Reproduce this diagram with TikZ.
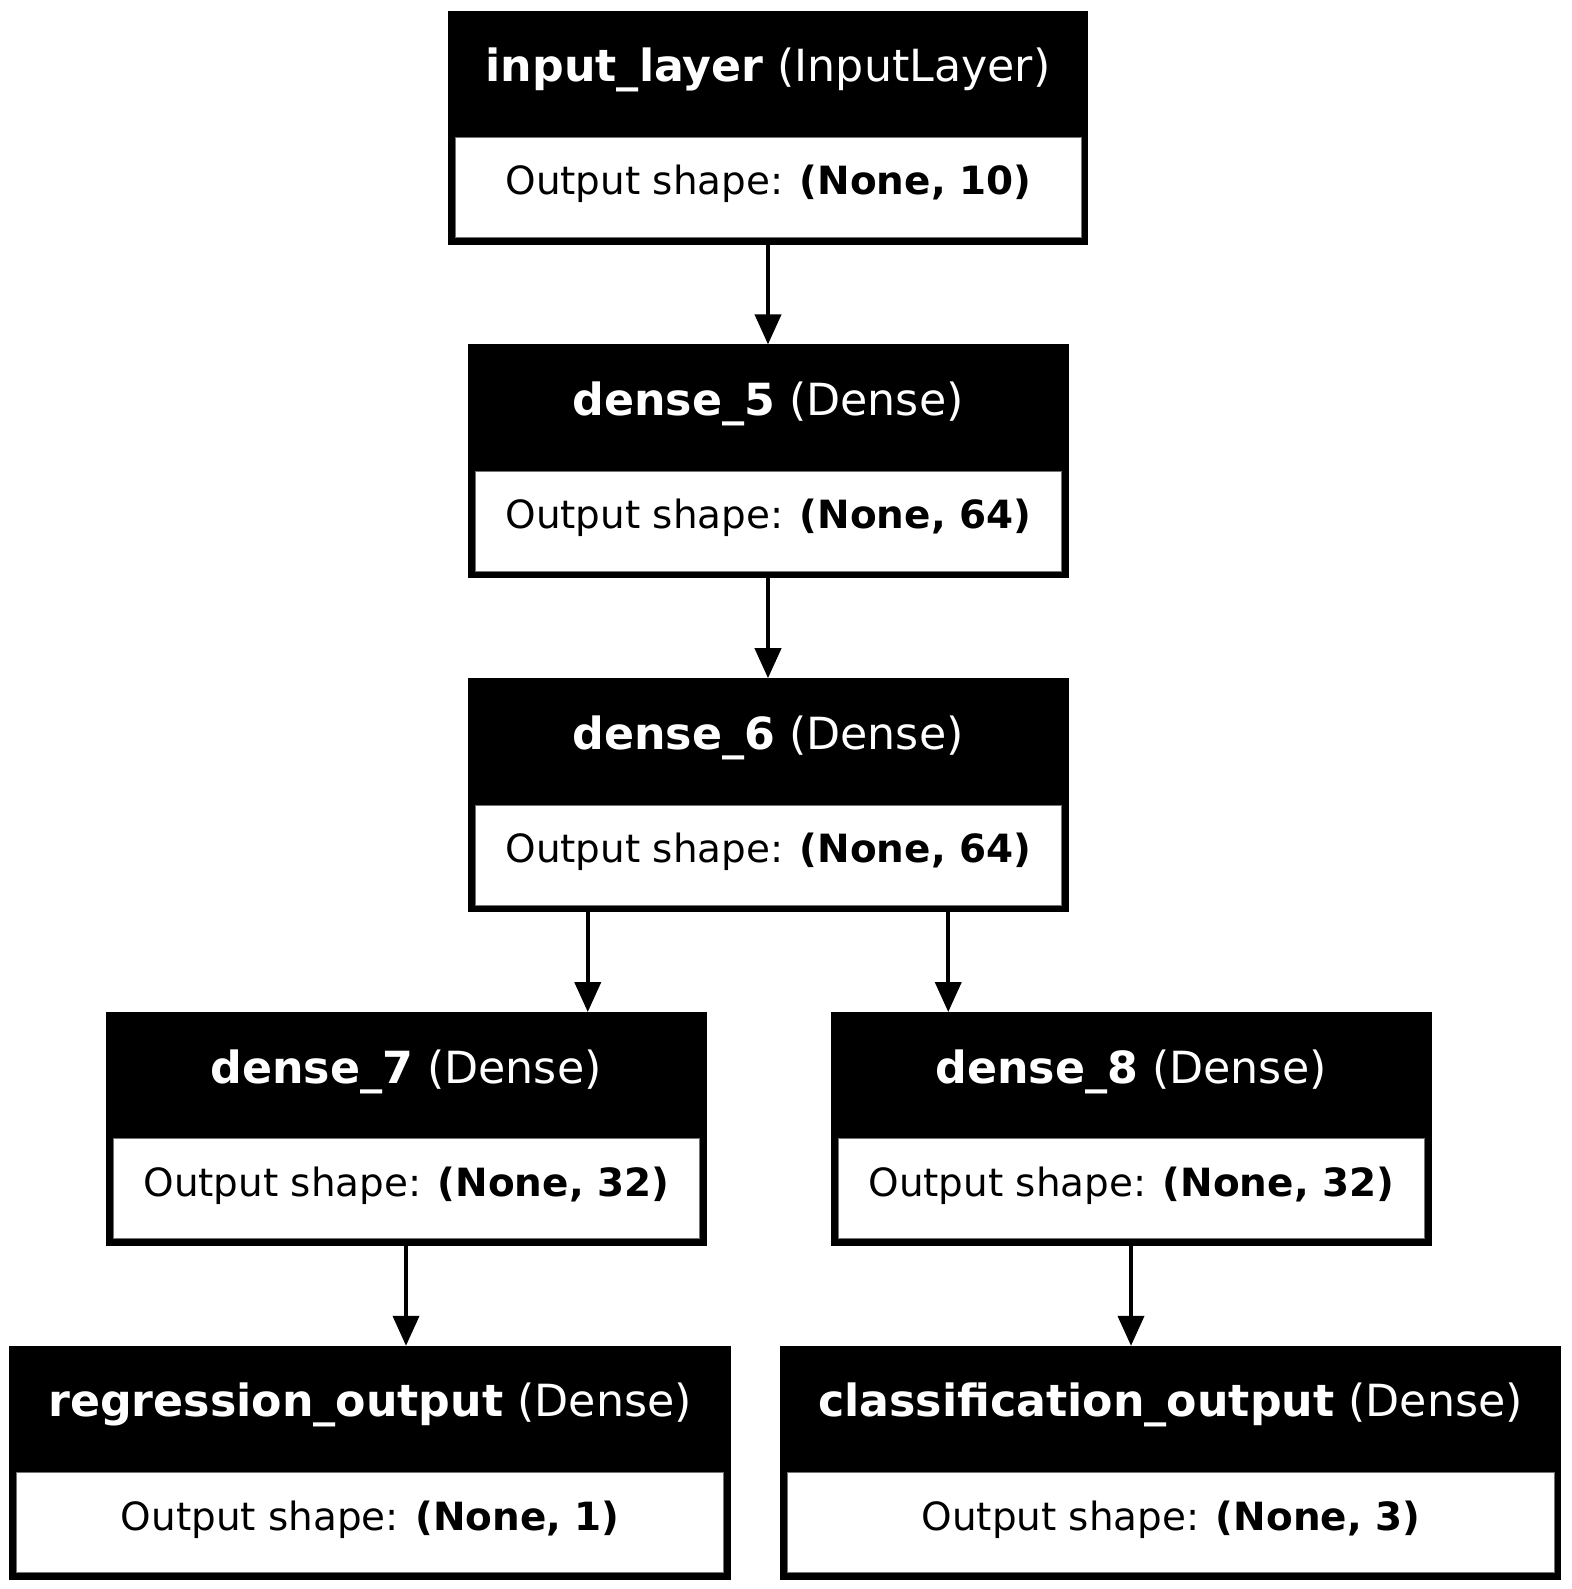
\documentclass[tikz,border=0pt]{standalone}
\usepackage{fontspec}
\setmainfont{DejaVu Sans}
\usepackage{tikz}
\usetikzlibrary{arrows.meta,positioning,calc}

\begin{document}
\begin{tikzpicture}
%defines
  [x=0.5pt,y=-0.5pt,
layerbox/.style={rectangle,fill=black,draw=black,line width=0.4pt,
inner sep=0pt,minimum height=116.5pt},
headbox/.style={rectangle,inner sep=0pt,anchor=north,text=white,
font=\fontsize{22.15pt}{26pt}\selectfont,
minimum height=63.25pt,text height=16pt,text depth=8.6pt},
shapebox/.style={rectangle,fill=white,draw=black!55,line width=0.5pt,
inner sep=0pt,minimum height=50pt,font=\fontsize{19.45pt}{23pt}\selectfont,
text height=16pt,text depth=8.6pt},
post/.style={-{Triangle[length=15pt,width=13pt]},line width=2pt}]
\useasboundingbox (0,0) rectangle (1572,1589);
% layers
\node[layerbox,minimum width=319.8pt] (input layer) at (768,127.5) {};
\node[layerbox,minimum width=300pt] (dense 5) [below=50pt of input layer] {};
\node[layerbox,minimum width=300pt] (dense 6) [below=50pt of dense 5] {};
\node[layerbox,minimum width=300pt] (dense 7) [below=50pt of dense 6,xshift=-181pt] {};
\node[layerbox,minimum width=300pt] (dense 8) [below=50pt of dense 6,xshift=181.5pt] {};
\node[layerbox,minimum width=360.25pt] (regression output) [below=50pt of dense 7,xshift=-18pt] {};
\node[layerbox,minimum width=390.25pt] (classification output) [below=50pt of dense 8,xshift=19.75pt] {};
% titles
\node[headbox] (input layer title) at (input layer.north) {\textbf{input\_layer} (InputLayer)};
\node[headbox] (dense 5 title) at (dense 5.north) {\textbf{dense\_5} (Dense)};
\node[headbox] (dense 6 title) at (dense 6.north) {\textbf{dense\_6} (Dense)};
\node[headbox] (dense 7 title) at (dense 7.north) {\textbf{dense\_7} (Dense)};
\node[headbox] (dense 8 title) at (dense 8.north) {\textbf{dense\_8} (Dense)};
\node[headbox] (regression output title) at (regression output.north) {\textbf{regression\_output} (Dense)};
\node[headbox] (classification output title) at (classification output.north) {\textbf{classification\_output} (Dense)};
% output shapes
\node[shapebox,minimum width=313.05pt] (input layer shape) [above right=3.25pt and 3.5pt of input layer.south west] {Output shape: \textbf{(None, 10)}};
\node[shapebox,minimum width=293.25pt] (dense 5 shape) [above right=3.25pt and 3.5pt of dense 5.south west] {Output shape: \textbf{(None, 64)}};
\node[shapebox,minimum width=293.25pt] (dense 6 shape) [above right=3.25pt and 3.5pt of dense 6.south west] {Output shape: \textbf{(None, 64)}};
\node[shapebox,minimum width=293.25pt] (dense 7 shape) [above right=3.25pt and 3.5pt of dense 7.south west] {Output shape: \textbf{(None, 32)}};
\node[shapebox,minimum width=293.25pt] (dense 8 shape) [above right=3.25pt and 3.5pt of dense 8.south west] {Output shape: \textbf{(None, 32)}};
\node[shapebox,minimum width=353.5pt] (regression output shape) [above right=3.25pt and 3.5pt of regression output.south west] {Output shape: \textbf{(None, 1)}};
\node[shapebox,minimum width=383.5pt] (classification output shape) [above right=3.25pt and 3.5pt of classification output.south west] {Output shape: \textbf{(None, 3)}};
% edges
\draw[post] (input layer.south) -- (dense 5.north);
\draw[post] (dense 5.south) -- (dense 6.north);
\draw[post] ($(dense 6.south west)!.2!(dense 6.south east)$) coordinate (fork left) -- (fork left |- dense 7.north);
\draw[post] ($(dense 6.south west)!.8!(dense 6.south east)$) coordinate (fork right) -- (fork right |- dense 8.north);
\draw[post] (dense 7.south) -- (dense 7.south |- regression output.north);
\draw[post] (dense 8.south) -- (dense 8.south |- classification output.north);
\end{tikzpicture}
\end{document}
